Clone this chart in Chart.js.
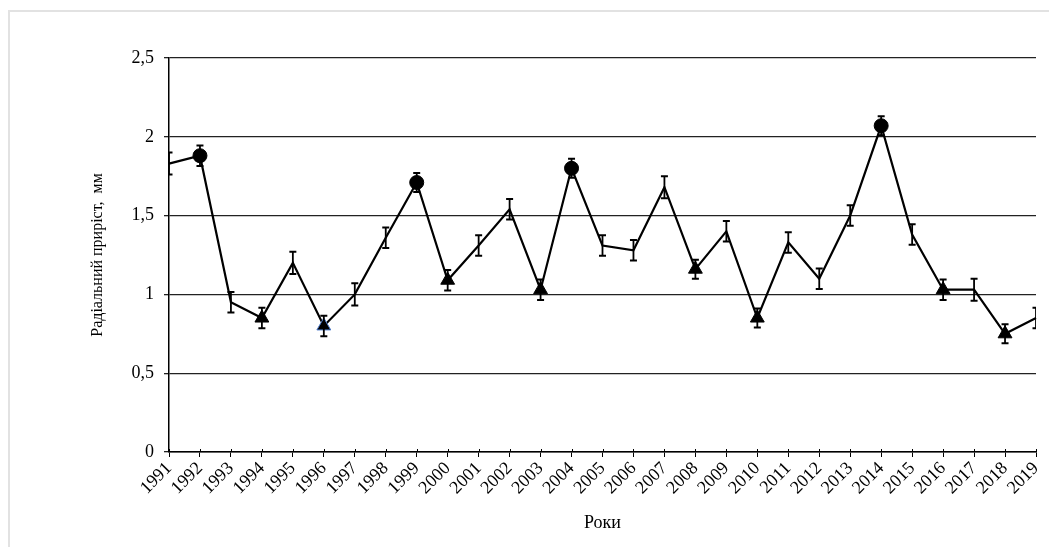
<!DOCTYPE html>
<html>
<head>
<meta charset="utf-8">
<script src="https://cdn.jsdelivr.net/npm/chart.js@4"></script>
<style>
body { margin: 0; background: #fff; }
#wrap { position: relative; width: 1049px; height: 547px; overflow: hidden; background: #fff; }
#frame { position: absolute; left: 8px; top: 10px; width: 1100px; height: 600px; border-top: 2px solid #e2e2e2; border-left: 2px solid #e2e2e2; }
canvas { position: absolute; left: 0; top: 0; }
</style>
</head>
<body>
<div id="wrap">
  <div id="frame"></div>
  <canvas id="myChart" width="1049" height="547"></canvas>
</div>
<script>
// chart data
let years = ["1991", "1992", "1993", "1994", "1995", "1996", "1997", "1998", "1999", "2000",
             "2001", "2002", "2003", "2004", "2005", "2006", "2007", "2008", "2009", "2010",
             "2011", "2012", "2013", "2014", "2015", "2016", "2017", "2018", "2019"];
let growth = [1.83, 1.88, 0.95, 0.85, 1.20, 0.80, 1.00, 1.36, 1.71, 1.09,
              1.31, 1.54, 1.03, 1.80, 1.31, 1.28, 1.68, 1.16, 1.40, 0.85,
              1.33, 1.10, 1.50, 2.07, 1.38, 1.03, 1.03, 0.75, 0.85];
let errors = [0.07, 0.065, 0.065, 0.065, 0.07, 0.065, 0.07, 0.065, 0.06, 0.065,
              0.065, 0.065, 0.065, 0.06, 0.065, 0.065, 0.07, 0.06, 0.065, 0.06,
              0.065, 0.065, 0.065, 0.06, 0.065, 0.065, 0.07, 0.06, 0.065];
let highYears = ["1992", "1999", "2004", "2014"];
let lowYears = ["1994", "1996", "2000", "2003", "2008", "2010", "2016", "2018"];
let yTickLabels = ["0", "0,5", "1", "1,5", "2", "2,5"];

const serif = "'Liberation Serif', 'Times New Roman', serif";

let pointStyles = years.map(y => lowYears.includes(y) ? 'triangle' : 'circle');
let pointSizes = years.map(y => highYears.includes(y) ? 7 : (lowYears.includes(y) ? 8 : 0));
let pointBorders = years.map(y => y === "1996" ? '#4a78c8' : '#000');

// error bars + small upper x ticks
const errorBars = {
    id: 'errorBars',
    afterDatasetsDraw(chart) {
        const ctx = chart.ctx;
        const x = chart.scales.x;
        const y = chart.scales.y;
        const area = chart.chartArea;
        ctx.save();
        ctx.beginPath();
        ctx.rect(area.left, area.top - 20, area.right - area.left, area.bottom - area.top + 20);
        ctx.clip();
        ctx.strokeStyle = '#000';
        for (let i = 0; i < growth.length; i++) {
            const px = x.getPixelForValue(i);
            const top = y.getPixelForValue(growth[i] + errors[i]);
            const bot = y.getPixelForValue(growth[i] - errors[i]);
            ctx.lineWidth = 1.8;
            ctx.beginPath();
            ctx.moveTo(px, top);
            ctx.lineTo(px, bot);
            ctx.stroke();
            ctx.lineWidth = 2;
            ctx.beginPath();
            ctx.moveTo(px - 3.5, top);
            ctx.lineTo(px + 3.5, top);
            ctx.moveTo(px - 3.5, bot);
            ctx.lineTo(px + 3.5, bot);
            ctx.stroke();
        }
        ctx.restore();

        ctx.save();
        ctx.strokeStyle = '#000';
        ctx.lineWidth = 1;
        const y0 = y.getPixelForValue(0);
        for (let i = 0; i < years.length; i++) {
            const px = Math.round(x.getPixelForValue(i)) + 0.5;
            ctx.beginPath();
            ctx.moveTo(px, y0 - 3);
            ctx.lineTo(px, y0);
            ctx.stroke();
        }
        ctx.restore();
    }
};

let myChart = document.getElementById('myChart').getContext('2d');

var growthChart = new Chart(myChart, {
    type: 'line',
    data: {
        labels: years,
        datasets: [{
            data: growth,
            borderColor: '#000',
            borderWidth: 2.2,
            tension: 0,
            pointStyle: pointStyles,
            pointRadius: pointSizes,
            pointHoverRadius: pointSizes,
            pointBackgroundColor: '#000',
            pointBorderColor: pointBorders,
            pointBorderWidth: 1
        }]
    },
    options: {
        responsive: false,
        animation: false,
        devicePixelRatio: 1,
        layout: { padding: { left: 0, top: 58, right: 13, bottom: 0 } },
        plugins: {
            legend: { display: false },
            tooltip: { enabled: false }
        },
        scales: {
            x: {
                grid: { drawOnChartArea: false, color: '#000', tickLength: 5, lineWidth: 1 },
                border: { color: '#000', width: 1.5 },
                ticks: {
                    color: '#000',
                    font: { family: serif, size: 18 },
                    maxRotation: 45,
                    minRotation: 45,
                    autoSkip: false,
                    padding: 1
                },
                title: {
                    display: true,
                    text: 'Роки',
                    color: '#000',
                    font: { family: serif, size: 18 },
                    padding: { top: 0, bottom: 13 }
                },
                afterFit(s) {
                    s.height = 95;
                    s.paddingLeft = 0;
                    s.paddingRight = 0;
                }
            },
            y: {
                min: 0,
                max: 2.5,
                ticks: {
                    stepSize: 0.5,
                    color: '#000',
                    padding: 10,
                    font: { family: serif, size: 18 },
                    callback: (v, i) => yTickLabels[i]
                },
                grid: { color: '#222', lineWidth: 1.3, tickLength: 5 },
                border: { color: '#000', width: 1.5 },
                title: {
                    display: true,
                    text: 'Радіальний приріст,  мм',
                    color: '#000',
                    font: { family: serif, size: 16 },
                    padding: { top: 88, bottom: 0 }
                },
                afterFit(s) {
                    s.width = 169;
                }
            }
        }
    },
    plugins: [errorBars]
});
</script>
</body>
</html>
